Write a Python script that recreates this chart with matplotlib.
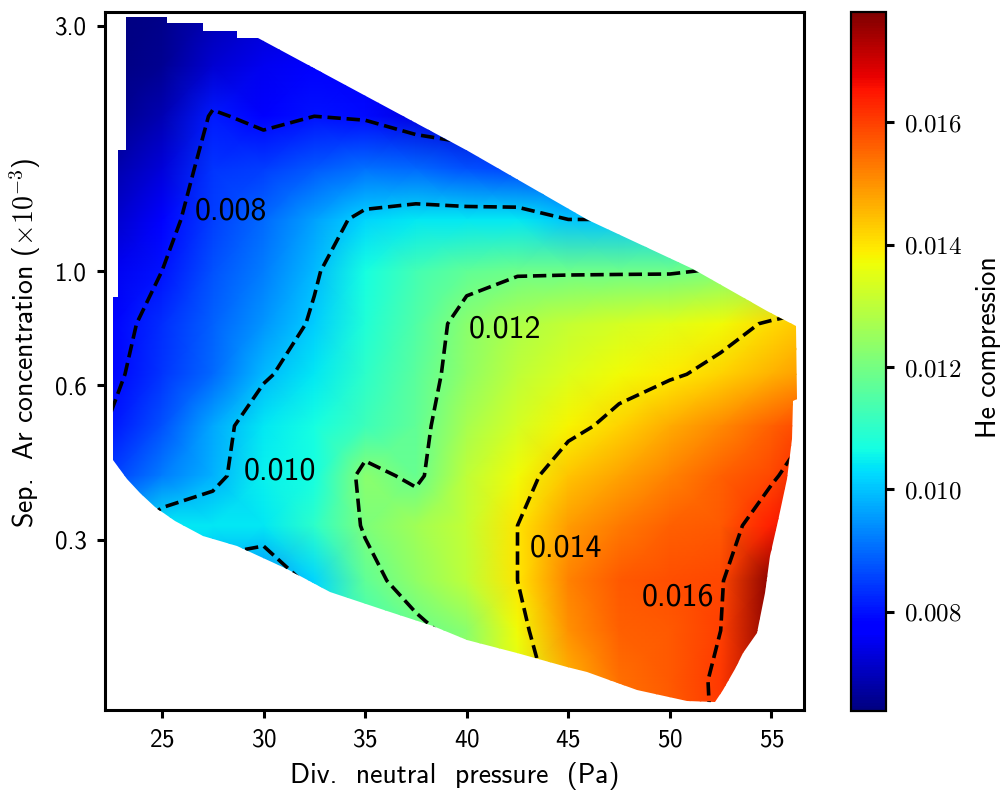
import numpy as np
import matplotlib
matplotlib.use('Agg')
import matplotlib.pyplot as plt
from matplotlib.patches import Polygon
from matplotlib.ticker import NullLocator

plt.rcParams['font.family'] = 'cmss10'
plt.rcParams['mathtext.fontset'] = 'cm'
plt.rcParams['axes.unicode_minus'] = False
plt.rcParams['axes.formatter.use_mathtext'] = True

# grid nodes
pressure = [22.5, 25.0, 27.5, 30.0, 32.5, 35.0, 37.5, 40.0, 42.5, 45.0, 47.5, 50.0, 52.5, 55.0, 57.5]
ar_conc = [3.16, 2.51, 2.0, 1.58, 1.26, 1.0, 0.79, 0.63, 0.5, 0.4, 0.32, 0.25, 0.2, 0.16, 0.126]

# He compression, rows follow ar_conc, columns follow pressure
he_comp = np.array([
    [0.0064, 0.0065, 0.0069, 0.0072, 0.0074, 0.0075, 0.0075, 0.0075, 0.0075, 0.0076, 0.0078, 0.0080, 0.0082, 0.0085, 0.0088],
    [0.0064, 0.0066, 0.0072, 0.0075, 0.0077, 0.0076, 0.0074, 0.0073, 0.0074, 0.0076, 0.0079, 0.0082, 0.0085, 0.0088, 0.0091],
    [0.0065, 0.0069, 0.0081, 0.0078, 0.0080, 0.0079, 0.0074, 0.0072, 0.0074, 0.0077, 0.0081, 0.0085, 0.0088, 0.0091, 0.0094],
    [0.0068, 0.0073, 0.0084, 0.0085, 0.0088, 0.0091, 0.0090, 0.0087, 0.0086, 0.0087, 0.0090, 0.0094, 0.0098, 0.0101, 0.0104],
    [0.0071, 0.0077, 0.0085, 0.0090, 0.0096, 0.0102, 0.0104, 0.0104, 0.0104, 0.0100, 0.0100, 0.0102, 0.0105, 0.0108, 0.0111],
    [0.0075, 0.0080, 0.0087, 0.0092, 0.0099, 0.0107, 0.0113, 0.0117, 0.0119, 0.0119, 0.0119, 0.0119, 0.0121, 0.0123, 0.0125],
    [0.0077, 0.0083, 0.0089, 0.0095, 0.0101, 0.0108, 0.0115, 0.0123, 0.0128, 0.0131, 0.0133, 0.0135, 0.0137, 0.0141, 0.0145],
    [0.00785, 0.0084, 0.0090, 0.0099, 0.0104, 0.0110, 0.0116, 0.0124, 0.0130, 0.0134, 0.0137, 0.0139, 0.0142, 0.0146, 0.0150],
    [0.00805, 0.0087, 0.0097, 0.0104, 0.0107, 0.0112, 0.0117, 0.0127, 0.0133, 0.0138, 0.0142, 0.0147, 0.0151, 0.0156, 0.0161],
    [0.0085, 0.0092, 0.0098, 0.0105, 0.0107, 0.0123, 0.0118, 0.0130, 0.0137, 0.0144, 0.0148, 0.0152, 0.0156, 0.0159, 0.0166],
    [0.0096, 0.0104, 0.0104, 0.0104, 0.0110, 0.0121, 0.0126, 0.0131, 0.0140, 0.0149, 0.0153, 0.0156, 0.0157, 0.0164, 0.0172],
    [0.0100, 0.0103, 0.0097, 0.0094, 0.0102, 0.0117, 0.0124, 0.0130, 0.0140, 0.0152, 0.0157, 0.0158, 0.0159, 0.0177, 0.0185],
    [0.0100, 0.0102, 0.0102, 0.0100, 0.0105, 0.0112, 0.0118, 0.0123, 0.0137, 0.0150, 0.0156, 0.0157, 0.0160, 0.0177, 0.0185],
    [0.0100, 0.0102, 0.0104, 0.0105, 0.0108, 0.0112, 0.0117, 0.0125, 0.0134, 0.0146, 0.0154, 0.0157, 0.0161, 0.0175, 0.0182],
    [0.0100, 0.0102, 0.0104, 0.0106, 0.0109, 0.0113, 0.0118, 0.0126, 0.0134, 0.0145, 0.0153, 0.0156, 0.0161, 0.0175, 0.0182],
])

# outline of the scanned region
bnd_x = [23.23, 25.25, 25.25, 27.02, 27.02, 28.69, 28.69, 29.72, 40.05, 45.95, 51.12, 54.76, 56.23,
         56.28, 56.04, 55.99, 55.74, 55.30, 54.91, 54.66, 54.27, 53.58, 53.18, 52.60, 52.20,
         50.82, 48.36, 45.90, 44.92, 42.46, 40.00, 38.33, 36.07, 33.26, 31.15, 28.69, 27.02,
         25.64, 24.66, 23.92, 23.28, 22.59, 22.59, 22.84, 22.84, 23.23]
bnd_y = [3.12, 3.12, 3.04, 3.04, 2.93, 2.93, 2.84, 2.84, 1.71, 1.257, 1.009, 0.836, 0.781,
         0.563, 0.558, 0.471, 0.394, 0.326, 0.279, 0.237, 0.198, 0.181, 0.168, 0.153, 0.145,
         0.146, 0.153, 0.166, 0.170, 0.181, 0.192, 0.204, 0.218, 0.238, 0.263, 0.292, 0.305,
         0.326, 0.347, 0.371, 0.394, 0.430, 0.890, 0.890, 1.72, 1.72]

levels = [0.008, 0.010, 0.012, 0.014, 0.016]
label_pos = [(28.4, 1.31), (30.8, 0.408), (41.9, 0.771), (44.9, 0.290), (50.4, 0.232)]

cbar_ticks = [0.008, 0.010, 0.012, 0.014, 0.016]
vmin, vmax = 0.00638, 0.0178

fig = plt.figure(figsize=(5.03, 3.99), dpi=200)
ax = fig.add_axes([0.1044, 0.110, 0.6948, 0.875])
cax = fig.add_axes([0.846, 0.109, 0.035, 0.876])

X, Y = np.meshgrid(pressure, ar_conc)
mesh = ax.pcolormesh(X, Y, he_comp, shading='gouraud', cmap='jet', vmin=vmin, vmax=vmax)
region = Polygon(np.column_stack([bnd_x, bnd_y]), closed=True, transform=ax.transData,
                 facecolor='none', edgecolor='none')
ax.add_patch(region)
mesh.set_clip_path(region)

cs = ax.contour(X, Y, he_comp, levels=levels, colors='k', linestyles='--', linewidths=1.3)
cs.set_clip_path(region)
for lev, (lx, ly) in zip(levels, label_pos):
    ax.text(lx, ly, f'{lev:.3f}', ha='center', va='center', fontsize=11.5)

ax.set_yscale('log')
ax.set_xlim(22.2, 56.6)
ax.set_ylim(0.140, 3.19)
ax.set_xticks([25, 30, 35, 40, 45, 50, 55])
ax.set_yticks([0.3, 0.6, 1.0, 3.0])
ax.set_yticklabels(['0.3', '0.6', '1.0', '3.0'])
ax.yaxis.set_minor_locator(NullLocator())
ax.tick_params(labelsize=9, length=3, width=1.1)
for s in ax.spines.values():
    s.set_linewidth(1.1)
ax.set_xlabel('Div.  neutral  pressure  (Pa)', fontsize=10)
ax.set_ylabel(r'Sep.  Ar concentration ($\times10^{-3}$)', fontsize=10)
ax.yaxis.set_label_coords(-0.089, 0.526)

cb = fig.colorbar(mesh, cax=cax)
cb.set_ticks(cbar_ticks)
cb.set_ticklabels([r'$%.3f$' % t for t in cbar_ticks])
cb.outline.set_linewidth(0.8)
cax.tick_params(labelsize=9, length=3, width=1.1)
cb.set_label('He compression', fontsize=10)
cax.yaxis.set_label_coords(3.55, 0.52)

fig.savefig('out.png', dpi=200)
